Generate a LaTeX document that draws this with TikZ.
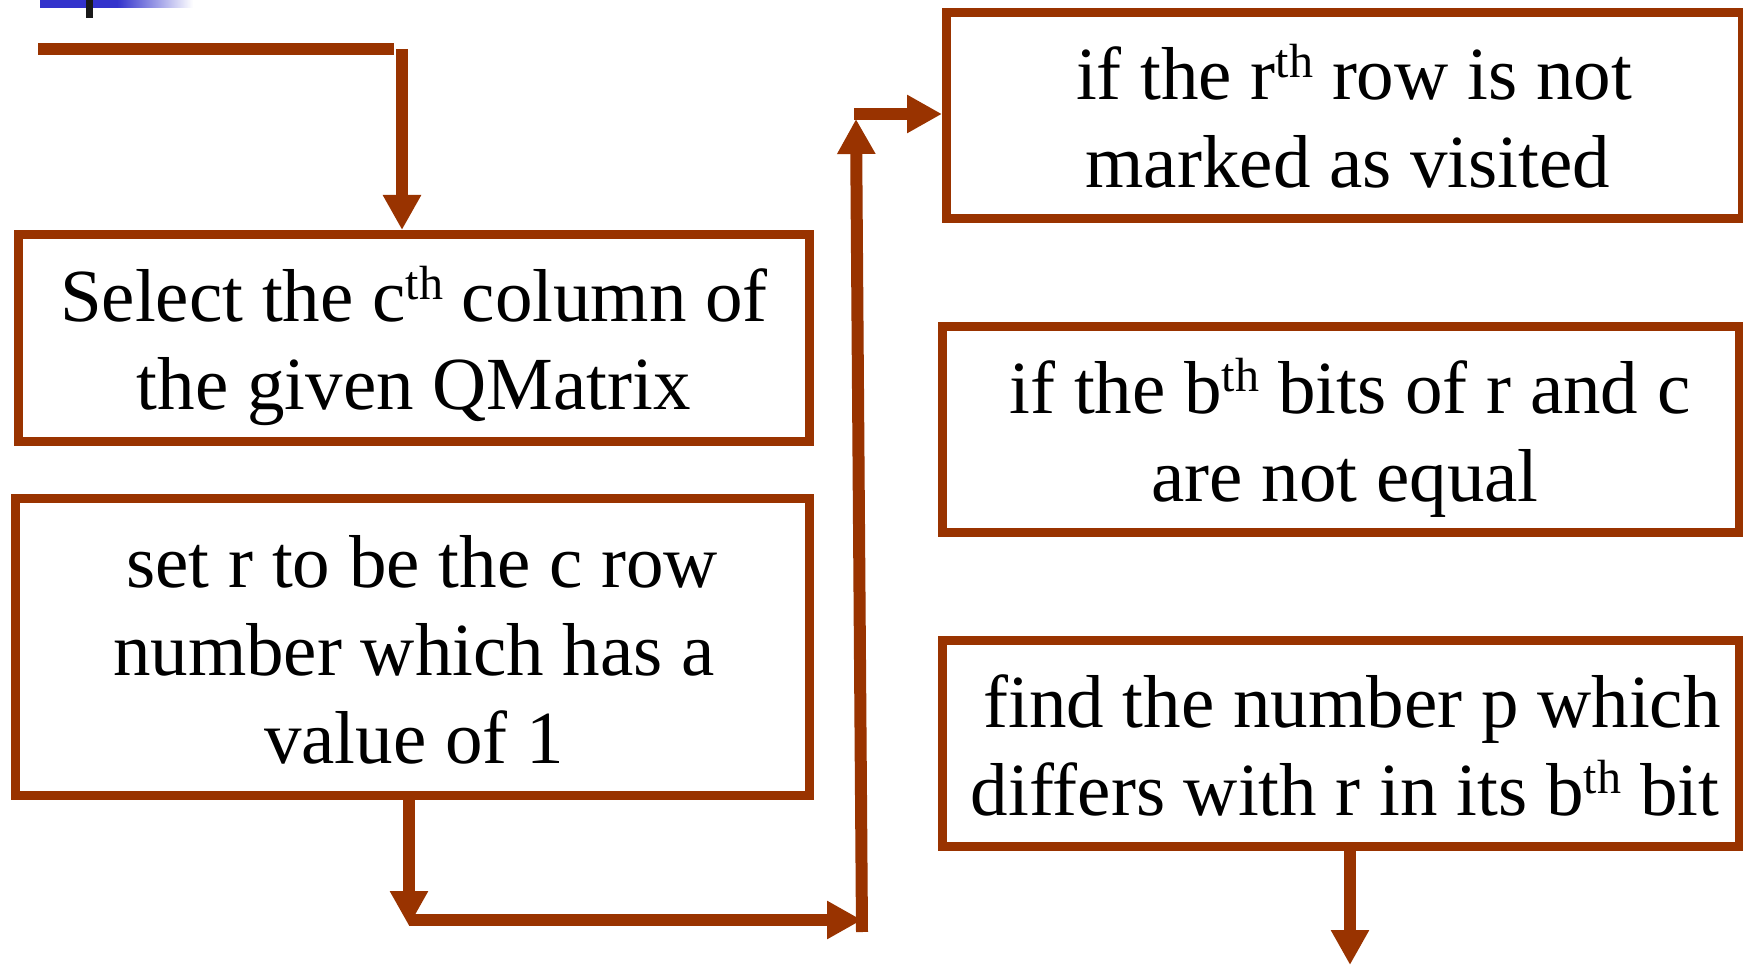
\documentclass[tikz,border=0pt]{standalone}
\usepackage{fontspec}
\setmainfont{Liberation Serif}
\usetikzlibrary{arrows.meta}
\definecolor{brn}{HTML}{993300}
\definecolor{hdrblue}{HTML}{3333CC}
\newcommand{\supth}{\raisebox{22pt}{\fontsize{48}{48}\selectfont th}}
\tikzset{
  box/.style={draw=brn, line width=9pt, fill=white, inner sep=0pt, rectangle},
  txt/.style={anchor=base, inner sep=0pt, font=\fontsize{75}{88}\selectfont, text=black},
  conn/.style={draw=brn, line width=12pt},
  tip/.style={-{Triangle[length=35pt,width=36pt]}}
}
\begin{document}
\begin{tikzpicture}[x=1pt,y=-1pt]
\useasboundingbox (0,0) rectangle (1743,965);
% header remnant
\fill[hdrblue] (40,0) rectangle (117,8);
\shade[left color=hdrblue, right color=white] (117,0) rectangle (193,8);
\fill[black!90] (86,0) rectangle (93,18);
% boxes
\node[box, minimum width=791pt, minimum height=207pt] (b1) at (414,338) {};
\node[box, minimum width=794pt, minimum height=297pt] (b2) at (412.5,647) {};
\node[box, minimum width=796pt, minimum height=206pt] (b3) at (1344.5,115.5) {};
\node[box, minimum width=797pt, minimum height=206pt] (b4) at (1341,429.5) {};
\node[box, minimum width=797pt, minimum height=206pt] (b5) at (1341,743.5) {};
% texts
\node[txt] (t1) at (414,322) {\begin{tabular}[t]{@{}c@{}}Select the c\supth{} column of\\the given QMatrix\end{tabular}};
\node[txt] (t2) at (414,587) {\begin{tabular}[t]{@{}c@{}}\hspace{16pt}set r to be the c row\\number which has a\\value of 1\end{tabular}};
\node[txt] (t3) at (1348,99.5) {\begin{tabular}[t]{@{}c@{}}\hspace{12pt}if the r\supth{} row is not\\marked as visited\end{tabular}};
\node[txt] (t4) at (1345,413.5) {\begin{tabular}[t]{@{}c@{}}\hspace{10pt}if the b\supth{} bits of r and c\\are not equal\end{tabular}};
\node[txt] (t5) at (1345,727.5) {\begin{tabular}[t]{@{}c@{}}\hspace{14pt}find the number p which\\differs with r in its b\supth{} bit\end{tabular}};
% connector coordinates
\coordinate (start) at (38,49);
\coordinate (turn1) at (402,49);
\coordinate (down2) at (409,926);
\coordinate (row2) at (409,920);
\coordinate (vbot) at (862,932);
\coordinate (vtop) at (856,119);
\coordinate (hleft) at (854,114);
\coordinate (exit5) at (1350,965);
% connectors
\draw[conn] (start) -- (394,49);
\draw[conn, tip] (turn1) -- (b1.north -| turn1);
\draw[conn, tip] (b2.south -| down2) -- (down2);
\draw[conn, tip] (row2) -- (vbot |- row2);
\draw[conn, tip] (vbot) -- (vtop);
\draw[conn, tip] (hleft) -- (b3.west |- hleft);
\draw[conn, tip] (b5.south -| exit5) -- (exit5);
\end{tikzpicture}
\end{document}
